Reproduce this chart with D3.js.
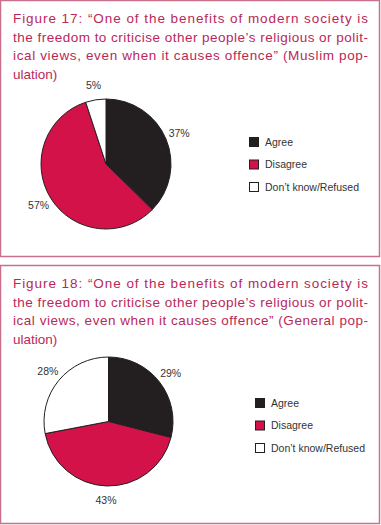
<!DOCTYPE html>
<html>
<head>
<meta charset="utf-8">
<script src="https://cdn.jsdelivr.net/npm/d3@7"></script>
<style>
  body { margin: 0; background: #fff; }
  svg text { font-family: "Liberation Sans", Arial, Helvetica, sans-serif; }
</style>
</head>
<body>
<svg id="chart" width="381" height="525"></svg>
<script>
// data
var categories = ["Agree", "Disagree", "Don\u2019t know/Refused"];
var muslimValues = [37, 57, 5];
var generalValues = [29, 43, 28];
var muslimTitle = [
  "Figure 17: \u201cOne of the benefits of modern society is",
  "the freedom to criticise other people\u2019s religious or polit-",
  "ical views, even when it causes offence\u201d (Muslim pop-",
  "ulation)"
];
var generalTitle = [
  "Figure 18: \u201cOne of the benefits of modern society is",
  "the freedom to criticise other people\u2019s religious or polit-",
  "ical views, even when it causes offence\u201d (General pop-",
  "ulation)"
];

var colors = d3.scaleOrdinal()
    .domain(categories)
    .range(["#231f20", "#d4124a", "#ffffff"]);

var svg = d3.select("#chart");

// one boxed figure: title, pie, legend
var drawPanel = function(top, height, titleLines, values, pieX, pieY, radius, legendX, legendY) {
  var g = svg.append("g").attr("transform", "translate(0," + top + ")");

  g.append("rect")
      .attr("x", 0.5).attr("y", 0.5)
      .attr("width", 379).attr("height", height)
      .attr("fill", "none")
      .attr("stroke", "#c9718c")
      .attr("stroke-width", 1.5);

  // justified title lines (last one left as is)
  g.selectAll("text.title")
      .data(titleLines)
      .enter().append("text")
      .attr("class", "title")
      .attr("x", 13)
      .attr("y", function(d, i) { return 23 + i * 18.5; })
      .attr("font-size", 13.5)
      .attr("fill", "#b92859")
      .attr("textLength", function(d, i) { return i < titleLines.length - 1 ? 355 : null; })
      .attr("lengthAdjust", "spacing")
      .text(function(d) { return d; });

  var data = categories.map(function(c, i) { return {cat: c, value: values[i]}; });
  var pie = d3.pie().sort(null).value(function(d) { return d.value; });
  var arcs = pie(data);
  var arc = d3.arc().innerRadius(0).outerRadius(radius);
  var labelArc = d3.arc().innerRadius(radius * 1.22).outerRadius(radius * 1.22);

  var chart = g.append("g").attr("transform", "translate(" + pieX + "," + pieY + ")");
  chart.selectAll("path")
      .data(arcs)
      .enter().append("path")
      .attr("d", arc)
      .attr("fill", function(d) { return colors(d.data.cat); })
      .attr("stroke", "#231f20")
      .attr("stroke-width", 1);

  chart.selectAll("text")
      .data(arcs)
      .enter().append("text")
      .attr("transform", function(d) { return "translate(" + labelArc.centroid(d) + ")"; })
      .attr("dy", ".35em")
      .style("text-anchor", "middle")
      .attr("font-size", 10.5)
      .attr("fill", "#333")
      .text(function(d) { return d.data.value + "%"; });

  var legend = g.selectAll("g.legend")
      .data(categories)
      .enter().append("g")
      .attr("class", "legend")
      .attr("transform", function(d, i) { return "translate(" + legendX + "," + (legendY + i * 22.5) + ")"; });
  legend.append("rect")
      .attr("x", 0.5).attr("y", -4.5)
      .attr("width", 9).attr("height", 9)
      .attr("fill", function(d) { return colors(d); })
      .attr("stroke", "#231f20")
      .attr("stroke-width", 1);
  legend.append("text")
      .attr("x", 16)
      .attr("dy", ".35em")
      .attr("font-size", 10.5)
      .attr("fill", "#333")
      .text(function(d) { return d; });
};

drawPanel(0, 256, muslimTitle, muslimValues, 106, 164, 65, 249, 142);
drawPanel(265, 258, generalTitle, generalValues, 108.5, 156.5, 64.5, 255, 138);
</script>
</body>
</html>
